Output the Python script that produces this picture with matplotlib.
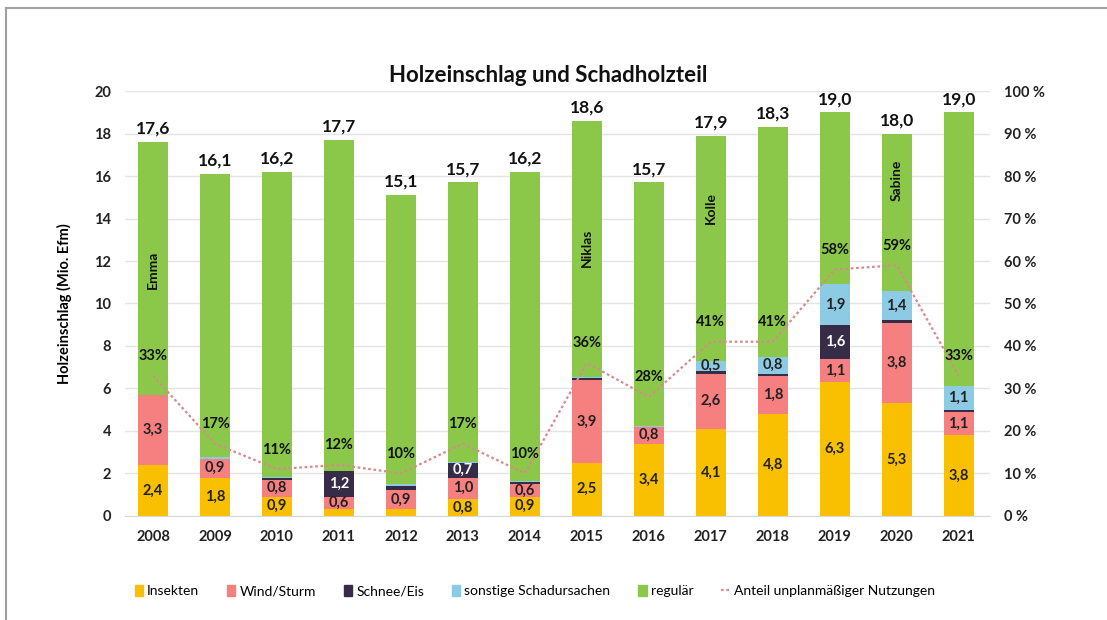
import matplotlib
matplotlib.use('Agg')
import matplotlib.pyplot as plt
import matplotlib.lines as mlines
import matplotlib.patches as mpatches
import numpy as np

plt.rcParams['font.family'] = ['Lato', 'DejaVu Sans']

# ── Daten ──
jahre = ['2008', '2009', '2010', '2011', '2012', '2013', '2014',
         '2015', '2016', '2017', '2018', '2019', '2020', '2021']
gesamt = [17.6, 16.1, 16.2, 17.7, 15.1, 15.7, 16.2, 18.6, 15.7, 17.9, 18.3, 19.0, 18.0, 19.0]
insekten = [2.4, 1.8, 0.9, 0.3, 0.3, 0.8, 0.9, 2.5, 3.4, 4.1, 4.8, 6.3, 5.3, 3.8]
wind = [3.3, 0.9, 0.8, 0.6, 0.9, 1.0, 0.6, 3.9, 0.8, 2.6, 1.8, 1.1, 3.8, 1.1]
schnee = [0.0, 0.0, 0.1, 1.2, 0.2, 0.7, 0.1, 0.1, 0.0, 0.1, 0.1, 1.6, 0.1, 0.1]
sonstige = [0.0, 0.05, 0.05, 0.0, 0.1, 0.05, 0.05, 0.05, 0.05, 0.5, 0.8, 1.9, 1.4, 1.1]
anteil = [33, 17, 11, 12, 10, 17, 10, 36, 28, 41, 41, 58, 59, 33]
stuerme = {'2008': ('Emma', 11.6), '2015': ('Niklas', 12.6),
           '2017': ('Kolle', 14.5), '2020': ('Sabine', 15.8)}

regulaer = [g - a - b - c - d for g, a, b, c, d in zip(gesamt, insekten, wind, schnee, sonstige)]

farben = {'Insekten': '#f8c000', 'Wind/Sturm': '#f67f80', 'Schnee/Eis': '#372c48',
          'sonstige Schadursachen': '#8dcbe4', 'regulär': '#8bc84a'}
linienfarbe = '#d9898c'

# ── Grafik ──
fig = plt.figure(figsize=(11.07, 6.2), dpi=100)
ax = fig.add_axes([0.113, 0.168, 0.781, 0.685])
x = np.arange(len(jahre))
breite = 0.48

unten = np.zeros(len(jahre))
serien = [('Insekten', insekten), ('Wind/Sturm', wind), ('Schnee/Eis', schnee),
          ('sonstige Schadursachen', sonstige), ('regulär', regulaer)]
for name, werte in serien:
    werte = np.array(werte)
    ax.bar(x, werte, breite, bottom=unten, color=farben[name], zorder=2)
    if name != 'regulär':
        for xi, v, b in zip(x, werte, unten):
            if v >= 0.45:
                farbe = 'white' if name == 'Schnee/Eis' else '#222222'
                ax.text(xi, b + v / 2, f'{v:.1f}'.replace('.', ','), ha='center', va='center',
                        fontsize=10.5, fontweight='bold', color=farbe, zorder=4)
    unten += werte

for xi, g in zip(x, gesamt):
    ax.text(xi, g + 0.25, f'{g:.1f}'.replace('.', ','), ha='center', va='bottom',
            fontsize=12.5, fontweight='bold', color='#111111')

for j, (name, yv) in stuerme.items():
    ax.text(jahre.index(j), yv, name, rotation=90, ha='center', va='center',
            fontsize=10, fontweight='bold', color='#111111', zorder=4)

ax.set_ylim(0, 20)
ax.set_xlim(-0.45, 13.5)
ax.set_yticks(range(0, 21, 2))
ax.set_xticks(x)
ax.set_xticklabels(jahre)
ax.tick_params(axis='both', length=0, labelsize=10.5, colors='#222222', pad=10)
for lbl in ax.get_xticklabels() + ax.get_yticklabels():
    lbl.set_fontweight('bold')
ax.grid(axis='y', color='#e4e4e4', linewidth=1, zorder=0)
for s in ['top', 'right', 'left']:
    ax.spines[s].set_visible(False)
ax.spines['bottom'].set_color('#d9d9d9')
ax.set_ylabel('Holzeinschlag (Mio. Efm)', fontsize=10.5, fontweight='bold', labelpad=16)

ax2 = ax.twinx()
ax2.plot(x, anteil, color=linienfarbe, linestyle=(0, (1.2, 1.2)), linewidth=1.6, zorder=3)
for xi, a in zip(x, anteil):
    ax2.annotate(f'{a}%', (xi, a), xytext=(0, 9), textcoords='offset points',
                 ha='center', va='bottom', fontsize=10.5, fontweight='bold', color='#111111')
ax2.set_ylim(0, 100)
ax2.set_yticks(range(0, 101, 10))
ax2.set_yticklabels([f'{v} %' for v in range(0, 101, 10)])
ax2.tick_params(axis='y', length=0, labelsize=10.5, colors='#222222', pad=10)
for lbl in ax2.get_yticklabels():
    lbl.set_fontweight('bold')
for s in ax2.spines.values():
    s.set_visible(False)

fig.text(0.495, 0.878, 'Holzeinschlag und Schadholzteil', ha='center', va='center',
         fontsize=16, fontweight='bold', color='#111111')

handles = [mpatches.Patch(color=farben[n], label=n) for n, _ in serien]
handles.append(mlines.Line2D([], [], color=linienfarbe, linestyle=(0, (1.2, 1.2)),
                             linewidth=1.6, label='Anteil unplanmäßiger Nutzungen'))
fig.legend(handles=handles, loc='center', bbox_to_anchor=(0.483, 0.047), ncol=6,
           frameon=False, fontsize=10, handlelength=0.6, handleheight=0.9,
           handletextpad=0.3, columnspacing=2.0)

# Rahmen
fig.add_artist(mlines.Line2D([0.005, 1.0], [0.987, 0.987], color='#a0a0a0', linewidth=1.5))
fig.add_artist(mlines.Line2D([0.005, 0.005], [0.0, 0.987], color='#a0a0a0', linewidth=1.5))

plt.savefig('out.png', dpi=100)
